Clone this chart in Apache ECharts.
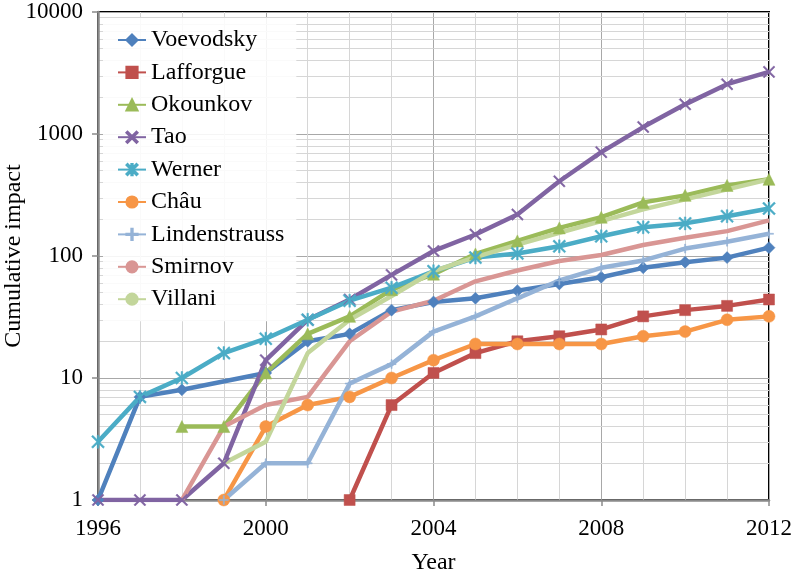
<!DOCTYPE html>
<html>
<head>
<meta charset="utf-8">
<script src="https://cdn.jsdelivr.net/npm/echarts@6/dist/echarts.min.js"></script>
<style>html,body{margin:0;padding:0;background:#fff;}#chart{width:792px;height:573px;}</style>
</head>
<body>
<div id="chart"></div>
<script>
const years = [1996,1997,1998,1999,2000,2001,2002,2003,2004,2005,2006,2007,2008,2009,2010,2011,2012];
const voevodsky     = [1,7,8,null,11,20,23,36,42,45,52,59,67,80,89,97,117];
const lafforgue     = [null,null,null,null,null,null,1,6,11,16,20,22,25,32,36,39,44];
const okounkov      = [null,null,4,4,11,23,32,53,71,104,133,170,208,275,314,379,425];
const tao           = [1,1,1,2,14,30,44,70,110,150,219,410,710,1140,1750,2560,3230];
const werner        = [3,7,10,16,21,30,43,55,75,97,105,120,145,172,185,212,245];
const chau          = [null,null,null,1,4,6,7,10,14,19,19,19,19,22,24,30,32];
const lindenstrauss = [null,null,null,1,2,2,9,13,24,32,45,63,80,92,115,131,152];
const smirnov       = [null,null,1,4,6,7,20,35,43,62,76,91,102,123,141,160,196];
const villani       = [null,null,null,2,3,16,30,47,75,98,124,155,193,241,291,352,425];
const yTickLabels   = [1,10,100,1000,10000];
const minorGridValues = [2,3,4,5,6,7,8,9,20,30,40,50,60,70,80,90,200,300,400,500,600,700,800,900,2000,3000,4000,5000,6000,7000,8000,9000];

const FONT = 'Liberation Serif';
const xMark = 'path://M0,1L1,0L10,9L9,10ZM9,0L10,1L1,10L0,9Z';
const starMark = 'path://M0,1L1,0L10,9L9,10ZM9,0L10,1L1,10L0,9ZM4.4,0L5.6,0L5.6,10L4.4,10Z';
const plusMark = 'path://M4.4,0L5.6,0L5.6,10L4.4,10ZM0,4.4L10,4.4L10,5.6L0,5.6Z';

const defs = [
  {name:'Voevodsky', data:voevodsky, color:'#4F81BD', symbol:'diamond', size:12, connect:true},
  {name:'Lafforgue', data:lafforgue, color:'#C0504D', symbol:'rect', size:11},
  {name:'Okounkov', data:okounkov, color:'#9BBB59', symbol:'triangle', size:12},
  {name:'Tao', data:tao, color:'#8064A2', symbol:xMark, size:12},
  {name:'Werner', data:werner, color:'#4BACC6', symbol:starMark, size:13},
  {name:'Châu', data:chau, color:'#F79646', symbol:'circle', size:12},
  {name:'Lindenstrauss', data:lindenstrauss, color:'#95B3D7', symbol:plusMark, size:9},
  {name:'Smirnov', data:smirnov, color:'#D99694', symbol:'none', size:0},
  {name:'Villani', data:villani, color:'#C3D69B', symbol:'none', size:0}
];

const series = [{
  name:'_grid', type:'line', data:[], silent:true, z:1,
  markLine:{silent:true, z:0, symbol:['none','none'], label:{show:false}, animation:false,
    lineStyle:{color:'#d6d6d6', width:1, type:'solid'}, emphasis:{disabled:true},
    data: minorGridValues.map(v => ({yAxis:v}))}
}];
defs.forEach(d => {
  series.push({
    name:d.name, type:'line', z:3,
    data: years.map((y,i) => [y, d.data[i]]),
    connectNulls: !!d.connect,
    showSymbol: d.symbol !== 'none', showAllSymbol:true,
    symbol:d.symbol, symbolSize:d.size,
    lineStyle:{color:d.color, width:4.5},
    itemStyle:{color:d.color, borderColor:d.color, borderWidth:0.5},
    emphasis:{disabled:true}
  });
});

const chart = echarts.init(document.getElementById('chart'), null, {renderer:'canvas'});
chart.setOption({
  animation:false,
  backgroundColor:'#fff',
  grid:{left:98, right:23, top:12, bottom:73, containLabel:false, outerBoundsMode:'none', show:true, borderColor:'#000', borderWidth:2},
  legend:{
    show:true, orient:'vertical', left:103, top:18, z:10,
    padding:[10,12,10,14], itemGap:8.4, itemWidth:28, itemHeight:14,
    backgroundColor:'rgba(255,255,255,0.88)', borderWidth:0,
    textStyle:{fontFamily:FONT, fontSize:24, color:'#000', lineHeight:24},
    data: defs.map(d => d.name)
  },
  xAxis:{
    type:'value', min:1996, max:2012, interval:4,
    name:'Year', nameLocation:'middle', nameGap:51, nameMoveOverlap:false,
    nameTextStyle:{fontFamily:FONT, fontSize:24, color:'#000'},
    axisLine:{show:true, onZero:false, lineStyle:{color:'#8a8a8a', width:2.5}},
    axisTick:{show:true, length:6, lineStyle:{color:'#8a8a8a', width:1.5}},
    axisLabel:{margin:17, fontFamily:FONT, fontSize:23, color:'#000', formatter: v => String(v)},
    splitLine:{show:true, lineStyle:{color:'#a8a8a8', width:1}},
    minorTick:{show:false, splitNumber:4},
    minorSplitLine:{show:true, lineStyle:{color:'#d6d6d6', width:1}}
  },
  yAxis:{
    type:'log', logBase:10, min:yTickLabels[0], max:yTickLabels[yTickLabels.length-1],
    name:'Cumulative impact', nameLocation:'middle', nameGap:72, nameRotate:90, nameMoveOverlap:false,
    nameTextStyle:{fontFamily:FONT, fontSize:24, color:'#000'},
    axisLine:{show:true, onZero:false, lineStyle:{color:'#8a8a8a', width:2.5}},
    axisTick:{show:true, length:6, lineStyle:{color:'#8a8a8a', width:1.5}},
    axisLabel:{margin:15, fontFamily:FONT, fontSize:23, color:'#000', formatter: v => String(v)},
    splitLine:{show:true, lineStyle:{color:'#a8a8a8', width:1}}
  },
  series: series
});
</script>
</body>
</html>
